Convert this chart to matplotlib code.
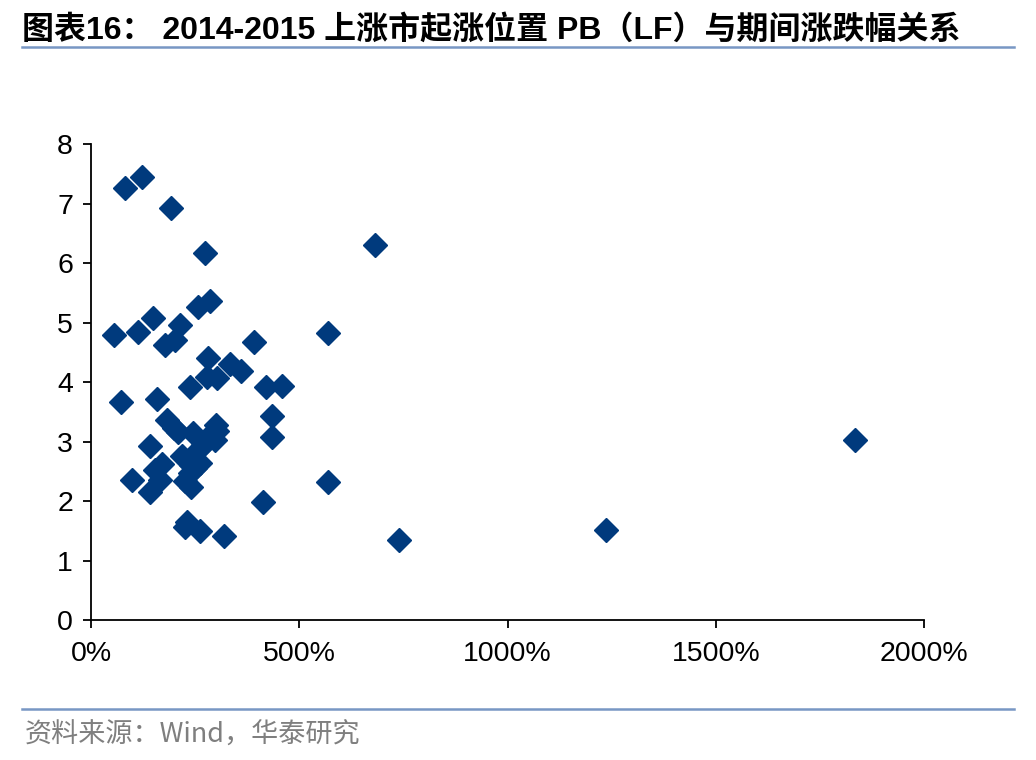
import numpy as np
import matplotlib.pyplot as plt
from matplotlib.lines import Line2D

plt.rcParams['font.family'] = ['Liberation Sans', 'Noto Sans CJK SC', 'DejaVu Sans']

# 期间涨跌幅 (%) and 起涨位置 PB (LF)
change_pct = [82, 122, 192, 274, 682, 55, 113, 149, 214, 257, 286, 178, 202, 569, 391,
              281, 334, 360, 278, 303, 238, 420, 459, 72, 158, 435, 182, 199, 209, 300,
              293, 435, 245, 142, 218, 259, 274, 298, 303, 154, 170, 240, 262, 238, 226,
              240, 166, 98, 142, 413, 569, 230, 226, 262, 319, 739, 1236, 1834, 269, 250]
pb_lf = [7.26, 7.45, 6.92, 6.17, 6.30, 4.79, 4.84, 5.08, 4.96, 5.26, 5.36, 4.62, 4.71, 4.82, 4.67,
         4.40, 4.30, 4.18, 4.08, 4.07, 3.92, 3.92, 3.93, 3.66, 3.71, 3.43, 3.36, 3.23, 3.16, 3.28,
         3.16, 3.08, 3.14, 2.92, 2.76, 2.87, 2.99, 3.03, 3.18, 2.52, 2.62, 2.61, 2.64, 2.47, 2.34,
         2.24, 2.35, 2.35, 2.15, 1.98, 2.32, 1.65, 1.56, 1.50, 1.41, 1.34, 1.51, 3.03, 2.95, 2.55]

x_ticks = [0, 500, 1000, 1500, 2000]
y_ticks = [0, 1, 2, 3, 4, 5, 6, 7, 8]

fig = plt.figure(figsize=(10.36, 7.6), dpi=100)
ax = fig.add_axes([0.0878, 0.184, 0.8042, 0.6265])

ax.plot(change_pct, pb_lf, linestyle='none', marker='D', markersize=12,
        color='#003A7D', markeredgecolor='#003A7D', clip_on=False)

ax.set_xlim(0, 2000)
ax.set_ylim(0, 8)
ax.set_xticks(x_ticks)
ax.set_xticklabels([f'{v}%' for v in x_ticks])
ax.set_yticks(y_ticks)
for s in ['top', 'right']:
    ax.spines[s].set_visible(False)
for s in ['left', 'bottom']:
    ax.spines[s].set_linewidth(1.3)
ax.tick_params(axis='both', labelsize=20.5, length=6, width=1.3, direction='out')
ax.tick_params(axis='x', pad=9)
ax.tick_params(axis='y', pad=7)

# title and source
fig.text(0.021, 0.960, '图表16： 2014-2015 上涨市起涨位置 PB（LF）与期间涨跌幅关系',
         fontsize=23, fontweight='bold', color='black', va='center',
         family=['Liberation Sans', 'Noto Sans CJK SC'])
fig.add_artist(Line2D([0.021, 0.979], [0.938, 0.938], color='#7897C4', linewidth=1.8))
fig.add_artist(Line2D([0.021, 0.979], [0.067, 0.067], color='#7897C4', linewidth=1.8))
fig.text(0.024, 0.033, '资料来源：Wind，华泰研究', fontsize=19.5, color='#7F7F7F', va='center',
         family=['Noto Sans CJK SC', 'Liberation Sans'])

fig.savefig('out.png', dpi=100)
